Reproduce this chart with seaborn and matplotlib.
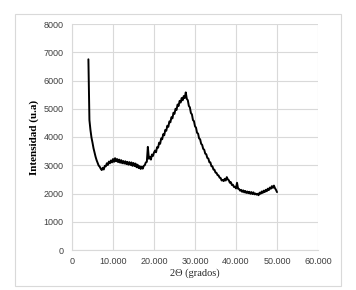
import numpy as np
import pandas as pd
import matplotlib
matplotlib.use("Agg")
import matplotlib.pyplot as plt
from matplotlib.patches import Rectangle
from matplotlib.ticker import FuncFormatter
import seaborn as sns

# 2-theta grid (degrees), step 0.25 from 4 to 50
dos_theta = np.arange(4.0, 50.001, 0.25)

# intensity (u.a)
intensidad = [
    6750, 4600, 4250, 3980, 3800, 3600, 3450, 3300, 3180, 3080,
    2990, 2950, 2880, 2830, 2910, 2850, 2980, 2960, 3070, 3010,
    3130, 3070, 3170, 3100, 3220, 3120, 3250, 3140, 3220, 3110,
    3200, 3090, 3180, 3070, 3150, 3060, 3140, 3040, 3120, 3020,
    3110, 3010, 3100, 2980, 3080, 2970, 3060, 2930, 3020, 2900,
    2970, 2870, 2950, 2880, 2980, 3000, 3100, 3120, 3650, 3230,
    3300, 3200, 3380, 3330, 3450, 3520, 3460, 3640, 3620, 3800,
    3760, 3950, 3920, 4100, 4060, 4250, 4220, 4400, 4360, 4550,
    4520, 4700, 4660, 4860, 4820, 5000, 4960, 5150, 5100, 5280,
    5220, 5380, 5300, 5450, 5380, 5580, 5350, 5300, 5100, 5050,
    4850, 4800, 4600, 4560, 4380, 4330, 4150, 4120, 3950, 3920,
    3760, 3720, 3580, 3550, 3410, 3390, 3260, 3240, 3110, 3100,
    2970, 2960, 2850, 2840, 2740, 2730, 2650, 2640, 2560, 2550,
    2460, 2480, 2440, 2520, 2460, 2580, 2500, 2470, 2380, 2400,
    2300, 2310, 2230, 2240, 2180, 2380, 2170, 2160, 2100, 2130,
    2060, 2110, 2040, 2090, 2020, 2070, 2010, 2060, 1990, 2050,
    1980, 2040, 1970, 2000, 1960, 1990, 1940, 2030, 1990, 2070,
    2020, 2100, 2050, 2130, 2080, 2170, 2120, 2210, 2170, 2260,
    2200, 2280, 2190, 2130, 2050,
]

xticks = [0, 10, 20, 30, 40, 50, 60]
yticks = [0, 1000, 2000, 3000, 4000, 5000, 6000, 7000, 8000]

df = pd.DataFrame({"2theta": dos_theta, "I": intensidad})

sns.set_style("whitegrid")
plt.rcParams["font.family"] = ["Liberation Sans", "DejaVu Sans"]

fig = plt.figure(figsize=(3.56, 2.90), dpi=100)
fig.add_artist(Rectangle((15 / 356, 4 / 290), 326 / 356, 272 / 290,
                         transform=fig.transFigure, fill=False,
                         edgecolor="#d9d9d9", linewidth=0.8))
ax = fig.add_axes([72 / 356, 40 / 290, 246 / 356, 226 / 290])

sns.lineplot(data=df, x="2theta", y="I", ax=ax, color="black",
             linewidth=1.4, estimator=None, sort=False)

ax.set_xlim(0, 60)
ax.set_ylim(0, 8000)
ax.set_xticks(xticks)
ax.set_yticks(yticks)
ax.xaxis.set_major_formatter(FuncFormatter(lambda v, p: "0" if v == 0 else f"{v:.3f}"))
ax.tick_params(axis="both", labelsize=6.5, colors="#404040", length=0)
ax.tick_params(axis="y", pad=6)
ax.tick_params(axis="x", pad=5)
ax.grid(True, color="#d9d9d9", linewidth=0.8)
for s in ["top", "right"]:
    ax.spines[s].set_visible(False)
for s in ["left", "bottom"]:
    ax.spines[s].set_color("#d9d9d9")
    ax.spines[s].set_linewidth(0.8)

ax.set_xlabel("2Θ (grados)", family=["Liberation Serif", "DejaVu Serif"],
              fontsize=7.5, color="#262626", labelpad=2)
ax.set_ylabel("Intensidad (u.a)", family=["Liberation Serif", "DejaVu Serif"],
              fontsize=8, fontweight="bold", color="black", labelpad=3)

fig.savefig("out.png", dpi=100)
